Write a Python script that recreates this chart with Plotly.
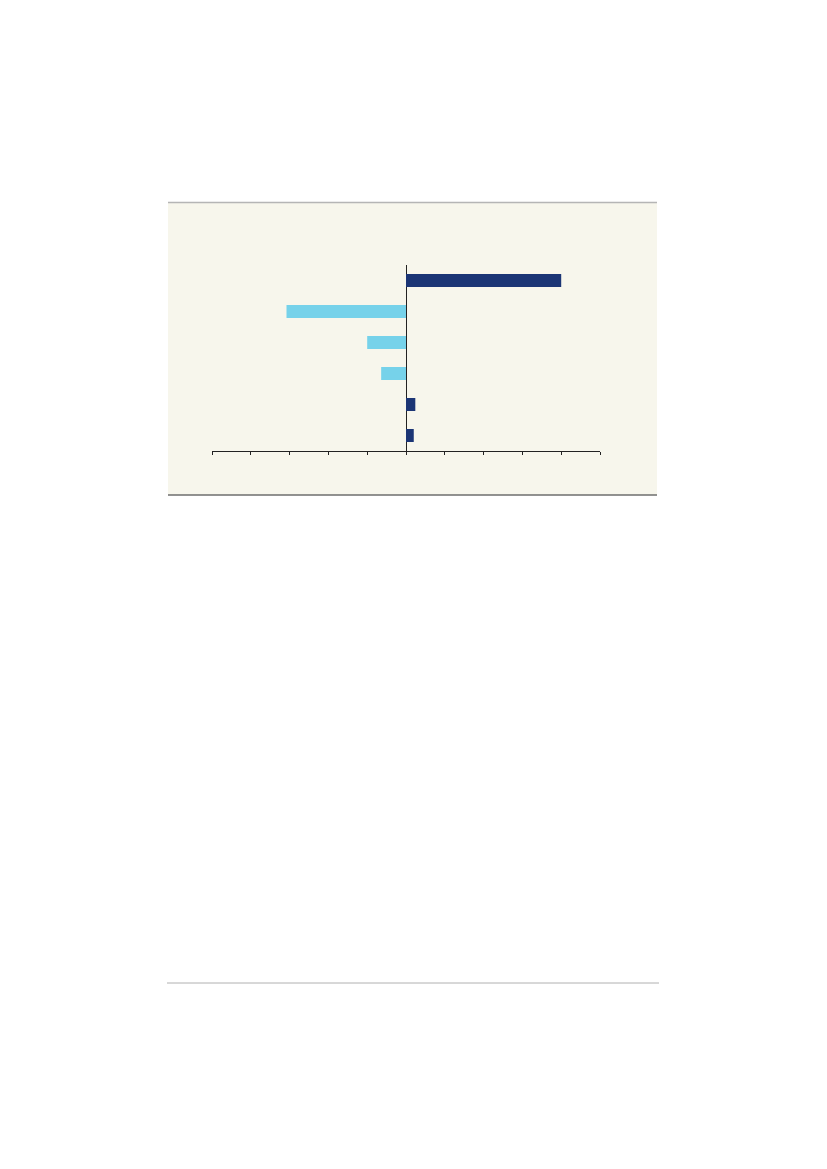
import plotly.graph_objects as go

# data (no labels shown in the reference)
categorii = ['r1', 'r2', 'r3', 'r4', 'r5', 'r6']
valori = [4.0, -3.08, -1.0, -0.64, 0.24, 0.2]

culoare_pozitiv = '#1b3575'
culoare_negativ = '#76d2ea'
fundal_panou = '#f7f6ec'

# the page body adds 8px around the figure
OFF = 8
W, H = 827 - 2 * OFF, 1169 - 2 * OFF
# plot area in page pixels
x0, x1 = 212, 600
y0, y1 = 265, 451


def px_x(p):
    return (p - x0) / (x1 - x0)


def px_y(p):
    return (y1 - p) / (y1 - y0)


culori = [culoare_pozitiv if v >= 0 else culoare_negativ for v in valori]

fig = go.Figure(go.Bar(
    x=valori,
    y=categorii,
    orientation='h',
    marker=dict(color=culori, line=dict(width=0)),
    hoverinfo='skip',
))

fig.update_layout(
    width=W,
    height=H,
    margin=dict(l=x0 - OFF, r=W - (x1 - OFF), t=y0 - OFF, b=H - (y1 - OFF), pad=0),
    paper_bgcolor='white',
    plot_bgcolor='rgba(0,0,0,0)',
    showlegend=False,
    bargap=0.58,
    xaxis=dict(
        range=[-5, 5],
        dtick=1,
        showgrid=False,
        zeroline=True,
        zerolinecolor='#222222',
        zerolinewidth=1,
        showline=True,
        linecolor='#222222',
        linewidth=1,
        ticks='outside',
        ticklen=3,
        tickcolor='#222222',
        showticklabels=False,
        fixedrange=True,
    ),
    yaxis=dict(
        categoryorder='array',
        categoryarray=categorii[::-1],
        range=[-0.5, len(categorii) - 0.5],
        showgrid=False,
        zeroline=False,
        showline=False,
        showticklabels=False,
        fixedrange=True,
    ),
    shapes=[
        dict(type='rect', xref='paper', yref='paper', layer='below',
             x0=px_x(168), x1=px_x(657), y0=px_y(495), y1=px_y(202),
             fillcolor=fundal_panou, line=dict(width=0)),
        dict(type='line', xref='paper', yref='paper',
             x0=px_x(168), x1=px_x(657), y0=px_y(202.5), y1=px_y(202.5),
             line=dict(color='#b5b5b5', width=1.5)),
        dict(type='line', xref='paper', yref='paper',
             x0=px_x(168), x1=px_x(657), y0=px_y(495), y1=px_y(495),
             line=dict(color='#6e6e6e', width=1.5)),
        dict(type='line', xref='paper', yref='paper',
             x0=px_x(167), x1=px_x(659), y0=px_y(983), y1=px_y(983),
             line=dict(color='#b0b0b0', width=1)),
    ],
)

fig.write_html('out.html')
